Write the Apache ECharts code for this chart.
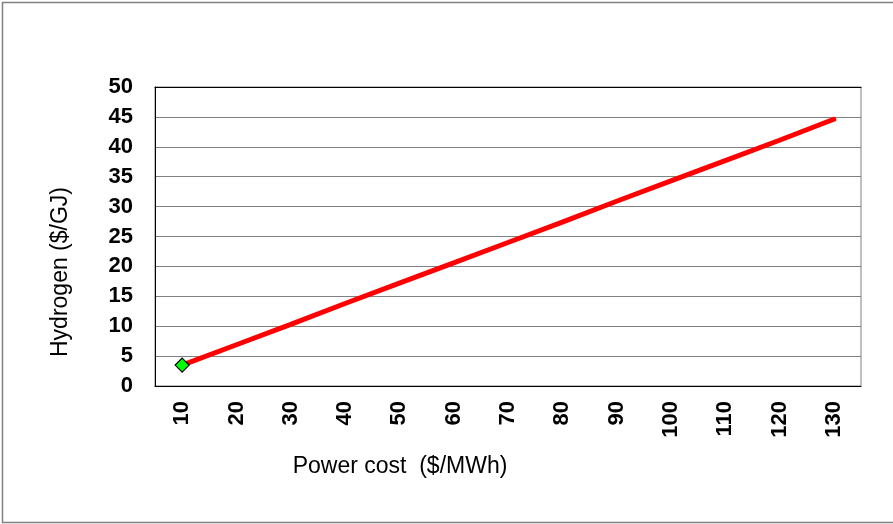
<!DOCTYPE html>
<html><head><meta charset="utf-8">
<script src="https://cdn.jsdelivr.net/npm/echarts@6/dist/echarts.min.js"></script>
<style>html,body{margin:0;padding:0;background:#fff}#c{width:893px;height:524px}</style>
</head><body><div id="c"></div>
<script>
var categories = ['10','20','30','40','50','60','70','80','90','100','110','120','130'];
var hydrogenCost = [3.5, 6.9, 10.3, 13.8, 17.2, 20.6, 24.0, 27.4, 30.9, 34.3, 37.7, 41.1, 44.6];
var yTicks = {min: 0, max: 50, interval: 5};
var xTitle = 'Power cost  ($/MWh)';
var yTitle = 'Hydrogen ($/GJ)';

var font = 'Liberation Sans, Arial, sans-serif';
var chart = echarts.init(document.getElementById('c'), null, {renderer: 'canvas'});
var lineData = hydrogenCost.map(function (v, i) {
  return i === 0 ? {value: v, symbol: 'diamond', symbolSize: 14,
    itemStyle: {color: '#00ff00', borderColor: '#000', borderWidth: 1.2}} : {value: v, symbol: 'none'};
});
chart.setOption({
  animation: false,
  backgroundColor: '#fff',
  graphic: [
    {type: 'rect', shape: {x: 2.5, y: 2.5, width: 900, height: 520},
      style: {fill: 'none', stroke: '#808080', lineWidth: 1.5}, silent: true},
    {type: 'text', x: 400, y: 467, style: {text: xTitle, fontFamily: font, fontSize: 23,
      fill: '#000', align: 'center', verticalAlign: 'middle'}},
    {type: 'text', x: 61, y: 272, rotation: Math.PI / 2, style: {text: yTitle, fontFamily: font, fontSize: 23,
      fill: '#000', align: 'center', verticalAlign: 'middle'}}
  ],
  grid: {left: 155, top: 87, right: 32, bottom: 138, show: true, borderColor: '#808080', borderWidth: 1},
  xAxis: [{
    type: 'category', data: categories, boundaryGap: true,
    axisLine: {lineStyle: {color: '#000', width: 1}},
    axisTick: {show: false},
    axisLabel: {rotate: 90, margin: 15, fontFamily: font, fontSize: 22, fontWeight: 'bold', color: '#000'},
    splitLine: {show: false}
  }, {
    type: 'category', data: categories, position: 'top', boundaryGap: true,
    axisLine: {lineStyle: {color: '#000', width: 1}}, axisTick: {show: false}, axisLabel: {show: false}
  }],
  yAxis: {
    type: 'value', min: yTicks.min, max: yTicks.max, interval: yTicks.interval,
    axisLine: {show: true, lineStyle: {color: '#000', width: 1}},
    axisTick: {show: false},
    axisLabel: {margin: 22, fontFamily: font, fontSize: 22, fontWeight: 'bold', color: '#000'},
    splitLine: {show: true, lineStyle: {color: '#808080', width: 1}}
  },
  series: [{
    type: 'line', data: lineData, showSymbol: true, z: 3,
    lineStyle: {color: '#ff0000', width: 5, cap: 'round'},
    itemStyle: {color: '#ff0000'}
  }]
});
</script></body></html>
